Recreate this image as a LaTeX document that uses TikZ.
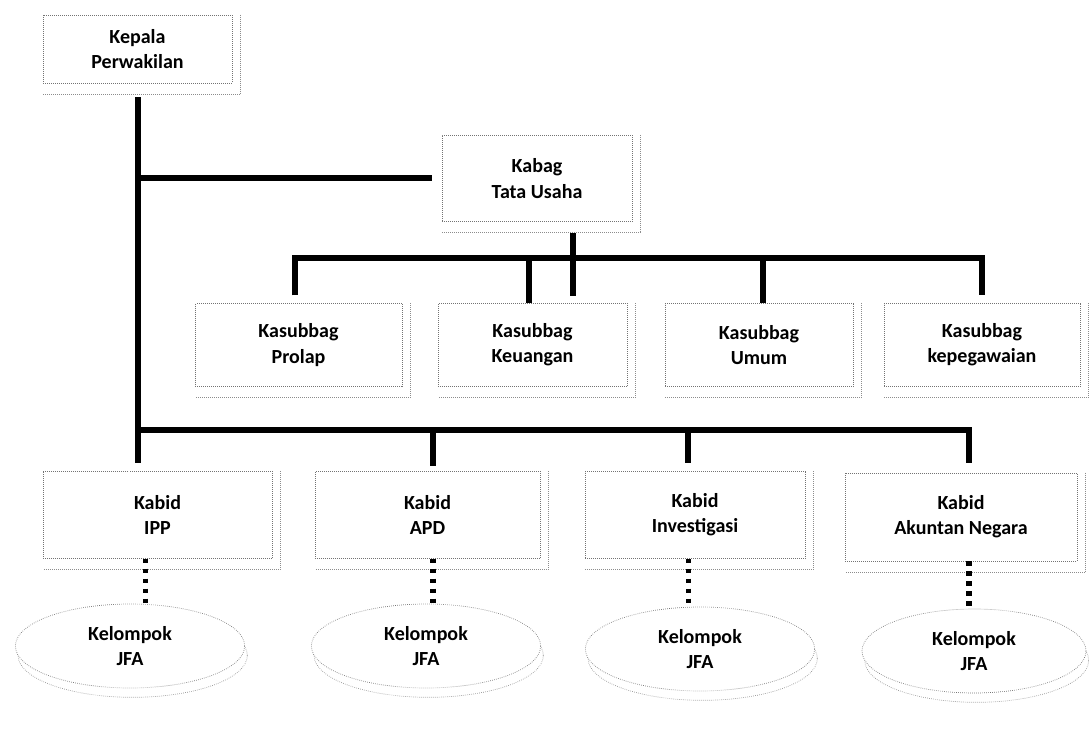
\documentclass[tikz,border=0pt]{standalone}
\usepackage{fontspec}
\setmainfont{Carlito}
\usetikzlibrary{positioning,shapes.geometric,shadows}

\begin{document}
\begin{tikzpicture}[x=7.5pt, y=7.5pt,
    unit/.style={draw=black!55, densely dotted, line width=0.5pt, fill=white,
      align=center, inner sep=0pt, font=\bfseries\fontsize{15}{19}\selectfont},
    frame/.style={draw=black!45, densely dotted, line width=0.5pt},
    link/.style={line width=4.5pt, line join=miter},
    dotlink/.style={line width=4pt, dash pattern=on 3.5pt off 4pt},
    jfa/.style={unit, ellipse, minimum width=172pt, minimum height=63pt,
      general shadow={draw=black!45, densely dotted, line width=0.5pt, fill=white,
        shadow xshift=2pt, shadow yshift=-7pt}}]
    \useasboundingbox (0,0) rectangle (108.9,72.9);

    % top
    \node[unit, minimum width=141.75pt, minimum height=51pt] (kepala) at (13.75,68.0) {Kepala\\Perwakilan};
    \node[unit, minimum width=142.5pt, minimum height=65pt] (kabag) at (53.7,55.05) {Kabag\\Tata Usaha};

    % Kasubbag
    \node[unit, minimum width=155pt, minimum height=62pt] (prolap) at (29.85,38.4) {Kasubbag\\Prolap};
    \node[unit, minimum width=142pt, minimum height=62pt] (keuangan) at (53.25,38.4) {Kasubbag\\Keuangan};
    \node[unit, minimum width=141pt, minimum height=62pt] (umum) at (75.9,38.4) {Kasubbag\\Umum};
    \node[unit, minimum width=147pt, minimum height=62pt] (kepeg) at (98.2,38.4) {Kasubbag\\kepegawaian};

    % Kabid
    \node[unit, minimum width=172pt, minimum height=65pt] (ipp) at (15.75,21.4) {Kabid\\IPP};
    \node[unit, minimum width=169pt, minimum height=65pt] (apd) at (42.75,21.4) {Kabid\\APD};
    \node[unit, minimum width=165pt, minimum height=65pt] (invest) at (69.5,21.4) {Kabid\\Investigasi};
    \node[unit, minimum width=174pt, minimum height=66pt] (akuntan) at (96.1,21.2) {Kabid\\Akuntan Negara};

    % Kelompok JFA
    \node[jfa] (jfa1) at (13.0,8.3) {Kelompok\\JFA};
    \node[jfa] (jfa2) at (42.6,8.3) {Kelompok\\JFA};
    \node[jfa] (jfa3) at (70.0,8.0) {Kelompok\\JFA};
    \node[jfa, minimum width=168pt] (jfa4) at (97.4,7.8) {Kelompok\\JFA};

    \foreach \n in {kepala,kabag,prolap,keuangan,umum,kepeg,ipp,apd,invest,akuntan}
        \draw[frame] ([xshift=6pt]\n.north east) |- ([yshift=-8pt]\n.south west);

    \coordinate (sbus) at (0,47.1);
    \coordinate (kbus) at (0,29.9);

    % trunk
    \draw[link] ([yshift=-10.5pt]kepala.south) -- ([yshift=6pt]kepala.south |- ipp.north);
    \draw[link] (kepala.south |- kabag.west) -- ([xshift=-7pt]kabag.west);
    \draw[link] (kepala.south |- kbus) -- ([xshift=6pt]akuntan.north |- kbus) -- ([xshift=6pt,yshift=7pt]akuntan.north);

    % Kabag -> Kasubbag
    \draw[link] ([xshift=27pt,yshift=-8pt]kabag.south) -- ++(0,-6.3);
    \draw[link] ([xshift=-2.5pt,yshift=6pt]prolap.north) -- ([xshift=-2.5pt]prolap.north |- sbus)
        -- (kepeg.north |- sbus) -- ([yshift=6pt]kepeg.north);
    \draw[link] ([xshift=-3pt]keuangan.north) -- ([xshift=-3pt]keuangan.north |- sbus);
    \draw[link] ([xshift=3pt]umum.north) -- ([xshift=3pt]umum.north |- sbus);

    % Kabid
    \draw[link] ([xshift=4pt]apd.north |- kbus) -- ([xshift=4pt,yshift=4pt]apd.north);
    \draw[link] ([xshift=-5pt]invest.north |- kbus) -- ([xshift=-5pt,yshift=6pt]invest.north);

    % Kabid -> JFA
    \foreach \b/\e/\s in {ipp/jfa1/-9pt, apd/jfa2/4pt, invest/jfa3/-5pt, akuntan/jfa4/6pt}
        \draw[dotlink] ([xshift=\s]\b.south) -- ([xshift=\s]\b.south |- \e.north);
\end{tikzpicture}
\end{document}
